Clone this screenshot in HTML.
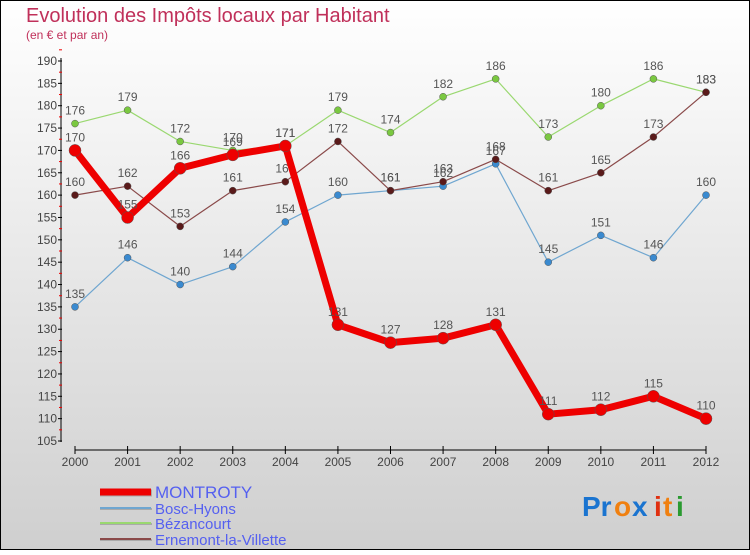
<!DOCTYPE html>
<html><head><meta charset="utf-8">
<style>
html,body{margin:0;padding:0;}
body{width:750px;height:550px;overflow:hidden;font-family:"Liberation Sans",sans-serif;}
</style></head>
<body>
<svg id="chart" width="750" height="550" xmlns="http://www.w3.org/2000/svg">
<defs>
<linearGradient id="bg" x1="0" y1="0" x2="0" y2="1">
<stop offset="0" stop-color="#ffffff"/><stop offset="1" stop-color="#cfcfcf"/>
</linearGradient>
</defs>
<rect x="0.5" y="0.5" width="749" height="549" fill="url(#bg)" stroke="#000" stroke-width="1"/>
<text x="26" y="22" font-size="20" fill="#c0305a">Evolution des Impôts locaux par Habitant</text>
<text x="26" y="39" font-size="12" fill="#c0305a">(en € et par an)</text>
<g id="axes"></g>
<g id="series"></g>
<g id="legend"></g>
<g font-size="28" font-weight="bold">
<text x="582" y="516" fill="#1a74d0">Pr</text><text x="614" y="516" fill="#f08010">o</text><text x="632" y="516" fill="#1a74d0">x</text><text x="654" y="516" fill="#e03010">i</text><text x="663" y="516" fill="#f08010">t</text><text x="676" y="516" fill="#2a9a30">i</text>
</g>
</svg>
<script>
const years=["2000","2001","2002","2003","2004","2005","2006","2007","2008","2009","2010","2011","2012"];
const yTicks=[105,110,115,120,125,130,135,140,145,150,155,160,165,170,175,180,185,190];
const montroty=[170,155,166,169,171,131,127,128,131,111,112,115,110];
const boscHyons=[135,146,140,144,154,160,161,162,167,145,151,146,160];
const bezancourt=[176,179,172,170,171,179,174,182,186,173,180,186,183];
const ernemont=[160,162,153,161,163,172,161,163,168,161,165,173,183];
const seriesNames=["MONTROTY","Bosc-Hyons","Bézancourt","Ernemont-la-Villette"];

const NS="http://www.w3.org/2000/svg";
const X=i=>75+i*(706-75)/12;
const Y=v=>441-(v-105)*(380/85);
function mk(tag,attrs,parent){const e=document.createElementNS(NS,tag);for(const k in attrs)e.setAttribute(k,attrs[k]);parent.appendChild(e);return e;}
const axes=document.getElementById('axes');
const yAxis=mk('line',{x1:61,y1:58,x2:61,y2:442,stroke:'#000','stroke-width':1},axes);


yTicks.forEach(v=>{
  const t=mk('line',{x1:58,y1:Y(v),x2:62,y2:Y(v),stroke:'#000'},axes);
  
  
  const m=mk('line',{x1:59,y1:Y(v+2.5),x2:62,y2:Y(v+2.5),stroke:'#e00'},axes);
  
  
  const l=mk('text',{x:57,y:Y(v)+4,'font-size':12,'text-anchor':'end',fill:'#444'},axes);
  l.textContent=v;
  
  
});
const xAxis=mk('line',{x1:75,y1:450,x2:706,y2:450,stroke:'#000'},axes);


years.forEach((y,i)=>{
  const t=mk('line',{x1:X(i),y1:446,x2:X(i),y2:454,stroke:'#000'},axes);
  
  
  const l=mk('text',{x:X(i),y:466,'font-size':12,'text-anchor':'middle',fill:'#444'},axes);
  l.textContent=y;
  
  
});
const sg=document.getElementById('series');
function drawSeries(data,name,color,dot,w,r,labelColor){
  const g=mk('g',{},sg);
  
  
  const p=mk('polyline',{points:data.map((v,i)=>X(i)+','+Y(v)).join(' '),fill:'none',stroke:color,'stroke-width':w,'stroke-linejoin':'round'},g);
  
  
  data.forEach((v,i)=>{
    const c=mk('circle',{cx:X(i),cy:Y(v),r:r,fill:dot,stroke:'#555','stroke-width':0.5},g);
    
    
    const t=mk('text',{x:X(i),y:Y(v)-9,'font-size':12,'text-anchor':'middle',fill:labelColor},g);
    t.textContent=v;
    
    
  });
}
drawSeries(boscHyons,'bosc-hyons','#6fa6d0','#3a8ad0',1.2,3.5,'#555');
drawSeries(bezancourt,'bezancourt','#9ad870','#7ac840',1.2,3.5,'#555');
drawSeries(ernemont,'ernemont-la-villette','#8a4a4a','#5a1a1a',1.2,3.5,'#555');
drawSeries(montroty,'montroty','#ee0000','#ee0000',7,6,'#555');

const lg=document.getElementById('legend');
const lcolors=['#ee0000','#6fa6d0','#9ad870','#8a4a4a'];
const lw=[7,2,2,2];
const ly=[492,508,523,539];
seriesNames.forEach((n,i)=>{
  const g=mk('g',{},lg);
  
  
  mk('line',{x1:100,y1:ly[i]+1,x2:152,y2:ly[i]+1,stroke:'#aaa','stroke-width':lw[i]},g);
  mk('line',{x1:100,y1:ly[i],x2:151,y2:ly[i],stroke:lcolors[i],'stroke-width':lw[i]},g);
  const t=mk('text',{x:155,y:ly[i]+6,'font-size':i==0?17:15,fill:'#5560f0'},g);
  t.textContent=n;
  
  
});
</script>
</body></html>
